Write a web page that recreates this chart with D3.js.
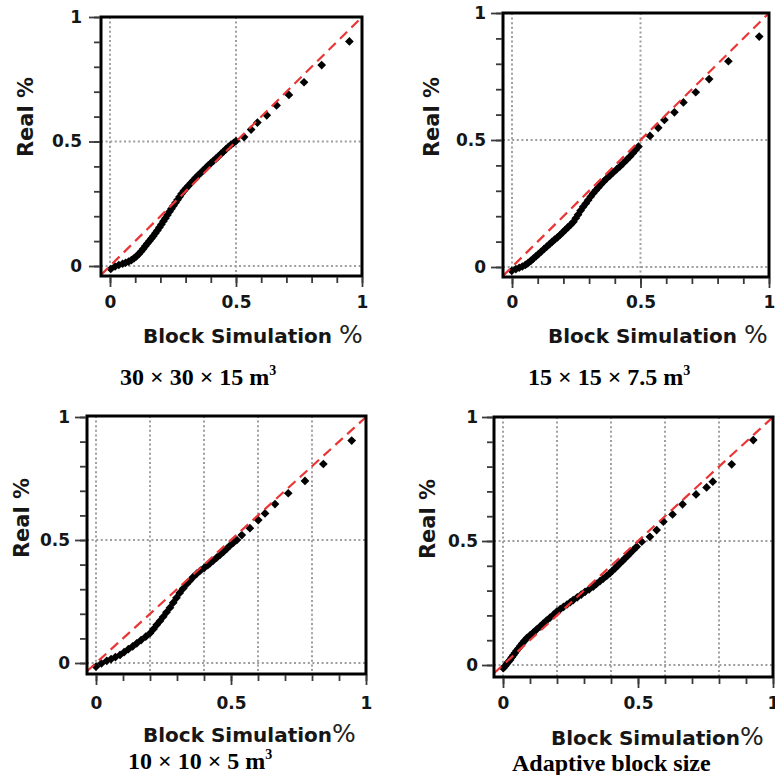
<!DOCTYPE html>
<html><head><meta charset="utf-8">
<script src="https://cdn.jsdelivr.net/npm/d3@7"></script>
<style>body{margin:0;background:#fff}svg{display:block}</style>
</head><body><svg id="c" width="775" height="775"></svg>
<script>
// ---- data ----
const series30 = [[0.003,-0.012],[0.02,-0.002],[0.035,0.004],[0.05,0.009],[0.062,0.013],[0.074,0.018],[0.085,0.024],[0.095,0.031],[0.105,0.039],[0.114,0.048],[0.123,0.058],[0.132,0.069],[0.14,0.08],[0.148,0.09],[0.156,0.1],[0.164,0.11],[0.172,0.12],[0.18,0.132],[0.188,0.143],[0.196,0.155],[0.204,0.167],[0.212,0.18],[0.22,0.192],[0.228,0.205],[0.236,0.218],[0.244,0.23],[0.252,0.242],[0.26,0.254],[0.268,0.266],[0.276,0.278],[0.284,0.29],[0.293,0.302],[0.302,0.312],[0.311,0.322],[0.32,0.332],[0.33,0.343],[0.34,0.354],[0.35,0.364],[0.36,0.374],[0.37,0.384],[0.38,0.394],[0.39,0.404],[0.4,0.413],[0.41,0.422],[0.42,0.431],[0.43,0.44],[0.44,0.45],[0.45,0.459],[0.46,0.469],[0.47,0.478],[0.48,0.487],[0.49,0.494],[0.5,0.502],[0.532,0.518],[0.56,0.548],[0.585,0.576],[0.622,0.605],[0.661,0.645],[0.71,0.687],[0.77,0.738],[0.84,0.807],[0.95,0.902]];
const series15 = [[-0.001,-0.015],[0.015,-0.008],[0.028,-0.003],[0.04,0.002],[0.052,0.008],[0.063,0.016],[0.073,0.024],[0.083,0.033],[0.093,0.042],[0.103,0.051],[0.113,0.06],[0.124,0.07],[0.135,0.08],[0.146,0.09],[0.156,0.099],[0.166,0.108],[0.177,0.117],[0.187,0.126],[0.197,0.136],[0.207,0.146],[0.217,0.156],[0.228,0.166],[0.239,0.178],[0.248,0.192],[0.257,0.206],[0.267,0.222],[0.277,0.237],[0.287,0.25],[0.296,0.263],[0.306,0.277],[0.316,0.29],[0.326,0.302],[0.336,0.313],[0.346,0.325],[0.356,0.336],[0.368,0.348],[0.381,0.36],[0.394,0.372],[0.407,0.384],[0.42,0.396],[0.433,0.409],[0.446,0.422],[0.459,0.435],[0.47,0.448],[0.481,0.461],[0.492,0.474],[0.537,0.516],[0.569,0.548],[0.593,0.579],[0.632,0.609],[0.667,0.648],[0.715,0.688],[0.767,0.74],[0.842,0.81],[0.962,0.907]];
const series10 = [[0,-0.015],[0.02,-0.002],[0.04,0.009],[0.056,0.016],[0.072,0.024],[0.089,0.033],[0.104,0.044],[0.12,0.056],[0.136,0.068],[0.151,0.08],[0.167,0.093],[0.184,0.107],[0.2,0.121],[0.213,0.138],[0.225,0.155],[0.237,0.171],[0.249,0.188],[0.261,0.206],[0.274,0.225],[0.286,0.245],[0.298,0.265],[0.31,0.285],[0.323,0.303],[0.335,0.32],[0.348,0.335],[0.36,0.35],[0.373,0.363],[0.387,0.376],[0.401,0.387],[0.414,0.398],[0.422,0.405],[0.434,0.416],[0.447,0.428],[0.46,0.44],[0.472,0.452],[0.484,0.464],[0.495,0.476],[0.509,0.489],[0.522,0.5],[0.54,0.52],[0.57,0.548],[0.601,0.581],[0.626,0.608],[0.663,0.646],[0.712,0.69],[0.774,0.74],[0.842,0.809],[0.947,0.904]];
const seriesAdaptive = [[0.001,-0.013],[0.008,-0.004],[0.014,0.005],[0.02,0.013],[0.026,0.02],[0.032,0.03],[0.038,0.039],[0.044,0.048],[0.05,0.057],[0.057,0.067],[0.064,0.077],[0.071,0.087],[0.079,0.097],[0.088,0.108],[0.1,0.12],[0.112,0.131],[0.124,0.143],[0.137,0.155],[0.149,0.167],[0.161,0.179],[0.174,0.191],[0.187,0.203],[0.199,0.215],[0.212,0.225],[0.224,0.234],[0.237,0.244],[0.249,0.253],[0.26,0.262],[0.275,0.273],[0.29,0.284],[0.304,0.295],[0.319,0.305],[0.334,0.316],[0.346,0.327],[0.359,0.338],[0.371,0.348],[0.384,0.359],[0.396,0.37],[0.405,0.38],[0.415,0.39],[0.424,0.4],[0.433,0.41],[0.443,0.42],[0.452,0.43],[0.461,0.44],[0.47,0.45],[0.483,0.464],[0.495,0.477],[0.514,0.497],[0.544,0.517],[0.569,0.544],[0.594,0.578],[0.628,0.607],[0.665,0.648],[0.715,0.688],[0.754,0.716],[0.777,0.739],[0.847,0.809],[0.927,0.907]];

const captions = ["30 × 30 × 15 m", "15 × 15 × 7.5 m", "10 × 10 × 5 m", "Adaptive block size"];
const captionSup = ["3", "3", "3", ""];
const majorTicks = [0, 0.5, 1];
const minorTicks = [0, 0.1, 0.2, 0.3, 0.4, 0.5, 0.6, 0.7, 0.8, 0.9, 1];
const gridXTop = [0, 0.5];
const gridXBottom = [0, 0.2, 0.4, 0.6, 0.8];
const gridY = [0, 0.5];
const xTitle = "Block Simulation";
const yTitle = "Real %";

// ---- layout ----
const panels = [
  {data: series30, gx: gridXTop, x0:110, x1:362, y0:266, y1:17, L:101, R:362, T:17, B:276, ypad:7, xlab:308, ytx:26, yty:117, xtx:143, xty:343, sp:" ", cx:120, cy:385},
  {data: series15, gx: gridXTop, x0:512, x1:769, y0:267, y1:13, L:503, R:769, T:13, B:277, ypad:5, xlab:308, ytx:432, yty:117, xtx:548, xty:343, sp:" ", cx:528, cy:385},
  {data: series10, gx: gridXBottom, x0:96, x1:366, y0:663, y1:417, L:87, R:366, T:416, B:674, ypad:5, xlab:709, ytx:22, yty:518, xtx:143, xty:742, sp:"", cx:128, cy:769},
  {data: seriesAdaptive, gx: gridXBottom, x0:503, x1:773, y0:665, y1:417, L:494, R:773, T:417, B:677, ypad:4, xlab:709, ytx:428, yty:519, xtx:551, xty:745, sp:"", cx:512, cy:771}
];

const svg = d3.select("#c");
const FONT = "'DejaVu Sans', Verdana, sans-serif";
const TXT = "#161616";

panels.forEach((p, i) => {
  const x = d3.scaleLinear().domain([0, 1]).range([p.x0, p.x1]);
  const y = d3.scaleLinear().domain([0, 1]).range([p.y0, p.y1]);
  const g = svg.append("g");
  const cid = "clip" + i;
  svg.append("clipPath").attr("id", cid).append("rect")
    .attr("x", p.L).attr("y", p.T).attr("width", p.R - p.L).attr("height", p.B - p.T);

  // grid
  g.selectAll(".gvx").data(p.gx).join("line")
    .attr("x1", d => x(d)).attr("x2", d => x(d)).attr("y1", p.T).attr("y2", p.B)
    .attr("stroke", "#9e9e9e").attr("stroke-width", 2).attr("stroke-dasharray", "2,2.6");
  g.selectAll(".gvy").data(gridY).join("line")
    .attr("y1", d => y(d)).attr("y2", d => y(d)).attr("x1", p.L).attr("x2", p.R)
    .attr("stroke", "#9e9e9e").attr("stroke-width", 2).attr("stroke-dasharray", "2,2.6");

  // points
  const sym = d3.symbol(d3.symbolSquare, 38);
  g.append("g").attr("clip-path", `url(#${cid})`)
    .selectAll("path").data(p.data).join("path")
    .attr("d", sym)
    .attr("transform", d => `translate(${x(d[0])},${y(d[1])}) rotate(45)`)
    .attr("fill", "#000");

  // 1:1 reference line
  const lo = Math.max(x.invert(p.L), y.invert(p.B));
  g.append("line").attr("clip-path", `url(#${cid})`)
    .attr("x1", x(lo)).attr("y1", y(lo)).attr("x2", x(1)).attr("y2", y(1))
    .attr("stroke", "#ea3535").attr("stroke-width", 2.2).attr("stroke-dasharray", "10,6");

  // box
  g.append("rect").attr("x", p.L).attr("y", p.T).attr("width", p.R - p.L).attr("height", p.B - p.T)
    .attr("fill", "none").attr("stroke", "#000").attr("stroke-width", 3);

  const styleAxis = sel => {
    sel.select(".domain").remove();
    sel.selectAll(".tick line").attr("stroke", "#3a3a3a").attr("stroke-width", 1.8);
    sel.selectAll(".tick text").attr("font-family", FONT).attr("font-weight", "bold")
      .attr("font-size", 17).attr("fill", TXT);
  };
  // minor ticks
  g.append("g").attr("transform", `translate(0,${p.B + 1})`)
    .call(d3.axisBottom(x).tickValues(minorTicks).tickSize(6).tickFormat("")).call(styleAxis);
  g.append("g").attr("transform", `translate(${p.L - 1},0)`)
    .call(d3.axisLeft(y).tickValues(minorTicks).tickSize(6).tickFormat("")).call(styleAxis);
  // major ticks + labels
  const bx = g.append("g").attr("transform", `translate(0,${p.B + 1})`)
    .call(d3.axisBottom(x).tickValues(majorTicks).tickSize(10).tickPadding(6).tickFormat(d3.format("~g")))
    .call(styleAxis);
  bx.selectAll(".tick text").attr("y", null).attr("dy", null)
    .attr("transform", `translate(0,${p.xlab - p.B - 1})`);
  g.append("g").attr("transform", `translate(${p.L - 1},0)`)
    .call(d3.axisLeft(y).tickValues(majorTicks).tickSize(11).tickPadding(p.ypad).tickFormat(d3.format("~g")))
    .call(styleAxis);

  // y title
  g.append("text").attr("transform", `translate(${p.ytx},${p.yty}) rotate(-90)`)
    .attr("text-anchor", "middle").attr("dominant-baseline", "central")
    .attr("font-family", FONT).attr("font-weight", "bold").attr("font-size", 21).attr("fill", TXT)
    .text(yTitle);

  // x title
  const xt = g.append("text").attr("x", p.xtx).attr("y", p.xty).attr("fill", TXT).attr("font-family", FONT);
  xt.append("tspan").attr("font-weight", "bold").attr("font-size", 20).text(xTitle + p.sp);
  xt.append("tspan").attr("font-size", 25).attr("fill", "#222").text("%");

  // caption
  const ct = g.append("text").attr("x", p.cx).attr("y", p.cy)
    .attr("font-family", "'Liberation Serif', 'Times New Roman', serif").attr("font-weight", "bold")
    .attr("font-size", 24).attr("fill", "#000");
  ct.append("tspan").text(captions[i]);
  if (captionSup[i]) ct.append("tspan").attr("font-size", 14).attr("dy", -10).text(captionSup[i]);
});
</script></body></html>
